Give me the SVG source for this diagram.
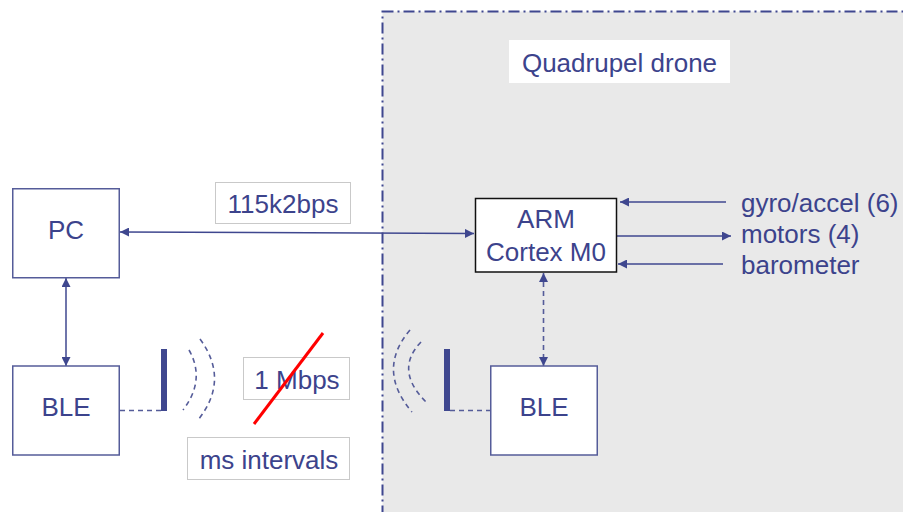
<svg xmlns="http://www.w3.org/2000/svg" width="903" height="512" viewBox="0 0 903 512">
<style>
.t{font-family:"Liberation Sans",Arial,sans-serif;font-size:26px;fill:#3c438c}
.node{fill:#fff;stroke:#555c99;stroke-width:1.5}
.lbl{fill:#fff;stroke:#c9c9c9;stroke-width:1}
.ln{stroke:#3f478f;stroke-width:1.5;fill:none}
.dash{stroke:#555c99;stroke-width:1.6;fill:none;stroke-dasharray:5,4}
.bar{fill:#3f478f}
</style>
<defs>
<marker id="ah" viewBox="0 0 10 10" refX="10" refY="5" markerWidth="9" markerHeight="9" markerUnits="userSpaceOnUse" orient="auto-start-reverse">
<path d="M0,0 L10,5 L0,10 z" fill="#3f478f"/>
</marker>
</defs>
<g id="drone">
<rect x="382.5" y="11.5" width="530" height="510" fill="#e9e9e9" stroke="#3f478f" stroke-width="2" stroke-dasharray="11,4,2,4"/>
<rect x="509" y="40" width="221" height="43" fill="#fff"/>
<text class="t" x="619.5" y="72" text-anchor="middle">Quadrupel drone</text>
</g>
<g id="connectors">
<line class="ln" x1="120" y1="232" x2="474" y2="233.5" marker-start="url(#ah)" marker-end="url(#ah)"/>
<line class="ln" x1="66" y1="278" x2="66" y2="366" marker-start="url(#ah)" marker-end="url(#ah)"/>
<line class="dash" x1="543.5" y1="273" x2="543.5" y2="366" marker-start="url(#ah)" marker-end="url(#ah)"/>
<line class="ln" x1="726" y1="202" x2="620" y2="202" marker-end="url(#ah)"/>
<line class="ln" x1="617" y1="236" x2="731" y2="236" marker-end="url(#ah)"/>
<line class="ln" x1="723" y1="264" x2="618" y2="264" marker-end="url(#ah)"/>
<line class="dash" x1="120" y1="410.5" x2="162" y2="410.5"/>
<line class="dash" x1="450" y1="410.5" x2="490" y2="410.5"/>
</g>
<g id="pc">
<rect class="node" x="12.75" y="188.75" width="106.5" height="89"/>
<text class="t" x="66" y="239" text-anchor="middle">PC</text>
</g>
<g id="ble-left">
<rect class="node" x="12.75" y="366" width="106.5" height="89"/>
<text class="t" x="66" y="416" text-anchor="middle">BLE</text>
</g>
<g id="arm">
<rect x="475.5" y="198.5" width="141" height="73.5" fill="#fff" stroke="#111" stroke-width="1.5"/>
<text class="t" x="546" y="228" text-anchor="middle">ARM</text>
<text class="t" x="546" y="261" text-anchor="middle">Cortex M0</text>
</g>
<g id="ble-right">
<rect class="node" x="490.75" y="366" width="106.5" height="89"/>
<text class="t" x="544" y="416" text-anchor="middle">BLE</text>
</g>
<g id="sensors">
<text class="t" x="741" y="212">gyro/accel (6)</text>
<text class="t" x="741" y="243">motors (4)</text>
<text class="t" x="741" y="274">barometer</text>
</g>
<g id="antenna-left">
<rect class="bar" x="161" y="349" width="6" height="62"/>
<path class="dash" d="M189,350 Q206,380 183,410"/>
<path class="dash" d="M200,339 Q230,380 198,420"/>
</g>
<g id="antenna-right">
<rect class="bar" x="444" y="349" width="6" height="62"/>
<path class="dash" d="M421,342 Q394,370 426,402"/>
<path class="dash" d="M410,330 Q376,370 412,412"/>
</g>
<g id="label-115k2">
<rect class="lbl" x="215.5" y="182.5" width="135" height="41"/>
<text class="t" x="283" y="213" text-anchor="middle">115k2bps</text>
</g>
<g id="label-1mbps">
<rect class="lbl" x="243.5" y="357.5" width="106" height="42"/>
<text class="t" x="297" y="389" text-anchor="middle">1 Mbps</text>
<line x1="254" y1="424" x2="323" y2="333" stroke="#f00" stroke-width="3"/>
</g>
<g id="label-ms">
<rect class="lbl" x="187.5" y="437.5" width="162" height="42"/>
<text class="t" x="269" y="469" text-anchor="middle">ms intervals</text>
</g>
</svg>
